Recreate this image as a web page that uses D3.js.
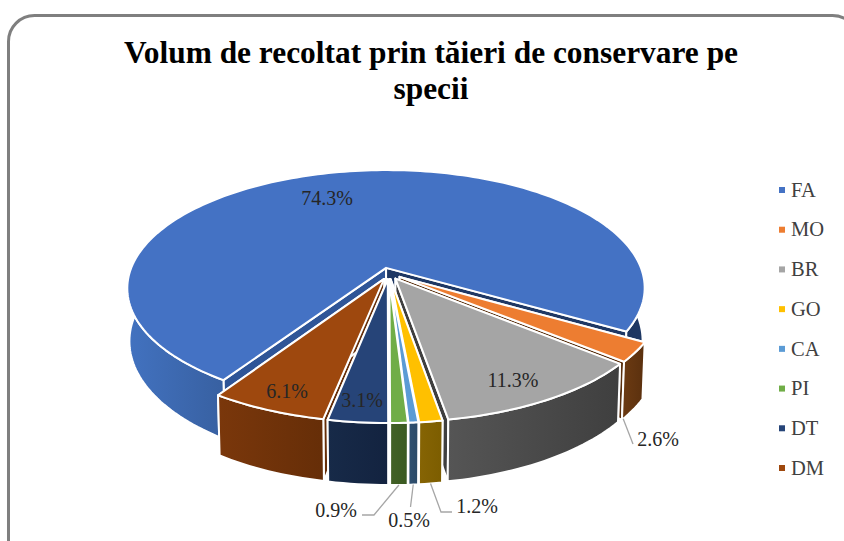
<!DOCTYPE html>
<html>
<head>
<meta charset="utf-8">
<script src="https://cdnjs.cloudflare.com/ajax/libs/d3/7.8.5/d3.min.js"></script>
<style>
  html, body { margin: 0; padding: 0; background: #fff; overflow: hidden; }
  text { font-family: "Liberation Serif", serif; }
</style>
</head>
<body>
<div id="chart"></div>
<script>
var width = 844;
var height = 541;

// data
var species = ["FA", "MO", "BR", "GO", "CA", "PI", "DT", "DM"];
var shares = [74.3, 2.6, 11.3, 1.2, 0.5, 0.9, 3.1, 6.1];
var shareLabels = ["74.3%", "2.6%", "11.3%", "1.2%", "0.5%", "0.9%", "3.1%", "6.1%"];
var titleLines = ["Volum de recoltat prin tăieri de conservare pe", "specii"];

// colours
var topColors = ["#4472c4", "#ed7d31", "#a5a5a5", "#ffc000", "#5b9bd5", "#70ad47", "#264478", "#9e480e"];
var wallStops = [
  ["#4272c0", "#375f9f", "#375f9f", "#1c3560", "#1f3864"],
  ["#6b3a12", "#5a300e"],
  ["#555555", "#3f3f3f"],
  ["#866404", "#7c5d00"],
  ["#2f5070", "#2b4a68"],
  ["#426126", "#3a5a22"],
  ["#172a48", "#132340"],
  ["#7a370b", "#662e08"]
];
var faceColors = [
  ["#2f5597", "#1f3864"],
  ["#5a300e", "#5a300e"],
  ["#3f3f3f", "#3f3f3f"],
  ["#7c5d00", "#7c5d00"],
  ["#2b4a68", "#2b4a68"],
  ["#3a5a22", "#3a5a22"],
  ["#132340", "#132340"],
  ["#662e08", "#662e08"]
];

// projection of the tilted pie
var cx = 389, cy = 273.5;
var radius = 257, radiusY = 116.5;
var persp = 0.173, depthPersp = 0.008, thickness = 52.5;
var explode = 0.05;

var svg = d3.select("#chart")
    .append("svg")
    .attr("width", width)
    .attr("height", height);

// frame
svg.append("rect")
    .attr("x", 8.5)
    .attr("y", 15.5)
    .attr("width", 850)
    .attr("height", 550)
    .attr("rx", 26)
    .attr("fill", "#fff")
    .attr("stroke", "#7f7f7f")
    .attr("stroke-width", 3);

// title
svg.selectAll(".title")
    .data(titleLines)
    .enter().append("text")
    .attr("class", "title")
    .attr("x", 431)
    .attr("y", function(d, i) { return 63 + i * 36; })
    .attr("text-anchor", "middle")
    .attr("font-size", 31.4)
    .attr("font-weight", "bold")
    .attr("fill", "#000")
    .text(function(d) { return d; });

var pie = d3.pie()
    .sort(null)
    .startAngle(213 * Math.PI / 180)
    .endAngle((213 + 360) * Math.PI / 180);

var slices = pie(shares);

function project(u, v, z) {
  var s = 1 / (1 + persp * v + depthPersp * z);
  return [cx + radius * u * s, cy - radiusY * v * s + thickness * z * s];
}

// point of slice d: at fraction r of the radius, angle a, depth z
function at(d, r, a, z) {
  var mid = (d.startAngle + d.endAngle) / 2;
  var u = explode * Math.sin(mid) + r * Math.sin(a);
  var v = explode * Math.cos(mid) + r * Math.cos(a);
  return project(u, v, z);
}

var line = d3.line();

function arcAngles(d) {
  return d3.range(0, 1.0001, 1 / Math.max(4, Math.ceil((d.endAngle - d.startAngle) * 40))).map(function(f) {
    return d.startAngle + f * (d.endAngle - d.startAngle);
  });
}

function topPath(d) {
  var pts = [at(d, 0, 0, 0)].concat(arcAngles(d).map(function(a) { return at(d, 1, a, 0); }));
  return line(pts) + "Z";
}

function wallPath(d) {
  var angles = arcAngles(d);
  var up = angles.map(function(a) { return at(d, 1, a, 0); });
  var down = angles.slice().reverse().map(function(a) { return at(d, 1, a, 1); });
  return line(up.concat(down)) + "Z";
}

function facePath(d, a) {
  return line([at(d, 0, 0, 0), at(d, 1, a, 0), at(d, 1, a, 1), at(d, 0, 0, 1)]) + "Z";
}

// wall gradients
var defs = svg.append("defs");
slices.forEach(function(d, i) {
  var xs = arcAngles(d).map(function(a) { return at(d, 1, a, 0)[0]; });
  var g = defs.append("linearGradient")
      .attr("id", "wall" + i)
      .attr("gradientUnits", "userSpaceOnUse")
      .attr("x1", d3.min(xs)).attr("x2", d3.max(xs))
      .attr("y1", 0).attr("y2", 0);
  var stopOffsets = d3.scaleLinear().domain([0, wallStops[i].length - 1]).range([0, 1]);
  wallStops[i].forEach(function(c, j) {
    var off = stopOffsets(j);
    if (i == 0) off = [0, 0.2, 0.9, 0.95, 1][j];
    g.append("stop").attr("offset", off).attr("stop-color", c);
  });
});

// far slices first, so the near ones paint over them
var order = d3.range(slices.length).sort(function(a, b) {
  var ma = (slices[a].startAngle + slices[a].endAngle) / 2;
  var mb = (slices[b].startAngle + slices[b].endAngle) / 2;
  return Math.cos(mb) - Math.cos(ma);
});

order.forEach(function(i) {
  var d = slices[i];
  var g = svg.append("g").attr("class", "slice");
  var edge = { stroke: "#fff", sw: 2 };
  g.append("path").attr("d", facePath(d, d.startAngle)).attr("fill", faceColors[i][0])
      .attr("stroke", edge.stroke).attr("stroke-width", edge.sw).attr("stroke-linejoin", "round");
  g.append("path").attr("d", facePath(d, d.endAngle)).attr("fill", faceColors[i][1])
      .attr("stroke", edge.stroke).attr("stroke-width", edge.sw).attr("stroke-linejoin", "round");
  g.append("path").attr("d", wallPath(d)).attr("fill", "url(#wall" + i + ")")
      .attr("stroke", edge.stroke).attr("stroke-width", edge.sw).attr("stroke-linejoin", "round");
  g.append("path").attr("d", topPath(d)).attr("fill", topColors[i])
      .attr("stroke", edge.stroke).attr("stroke-width", edge.sw).attr("stroke-linejoin", "round");
});

// data labels
var labelSpots = [[327, 198], [658, 439], [513, 380], [477, 506], [409, 520], [336, 510], [362, 400], [287, 391]];
svg.selectAll(".pct")
    .data(shareLabels)
    .enter().append("text")
    .attr("class", "pct")
    .attr("x", function(d, i) { return labelSpots[i][0]; })
    .attr("y", function(d, i) { return labelSpots[i][1]; })
    .attr("dy", "0.33em")
    .attr("text-anchor", "middle")
    .attr("font-size", 20)
    .attr("fill", "#262626")
    .text(function(d) { return d; });

// leader lines for the small slices: slice index, where along the arc it starts, elbow points
var leaders = [
  [1, 0.95, [[633, 444]]],
  [3, 0.5, [[441, 512], [452, 512]]],
  [4, 0.5, [[410.5, 507]]],
  [5, 0.5, [[374, 515], [362, 515]]]
];
leaders.forEach(function(l) {
  var d = slices[l[0]];
  var start = at(d, 1, d.startAngle + l[1] * (d.endAngle - d.startAngle), 1);
  svg.append("path")
      .attr("d", line([start].concat(l[2])))
      .attr("fill", "none")
      .attr("stroke", "#a6a6a6")
      .attr("stroke-width", 1.3);
});

// legend
var legendY = d3.scalePoint().domain(species).range([190, 468]);
var legend = svg.selectAll(".legend")
    .data(species)
    .enter().append("g")
    .attr("class", "legend")
    .attr("transform", function(d) { return "translate(779," + legendY(d) + ")"; });
legend.append("rect")
    .attr("x", 0)
    .attr("y", -3)
    .attr("width", 6)
    .attr("height", 6)
    .attr("fill", function(d, i) { return topColors[i]; });
legend.append("text")
    .attr("x", 12)
    .attr("dy", "0.33em")
    .attr("font-size", 20.5)
    .attr("fill", "#404040")
    .text(function(d) { return d; });
</script>
</body>
</html>
